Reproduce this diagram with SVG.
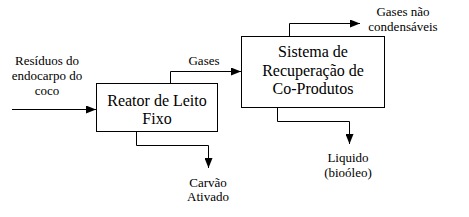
<svg xmlns="http://www.w3.org/2000/svg" width="469" height="217" viewBox="0 0 469 217">
<style>
.box{fill:#fff;stroke:#000;stroke-width:1}
.ln{fill:none;stroke:#000;stroke-width:1}
.t,.s{font-family:'Liberation Serif','Times New Roman',serif;fill:#000;text-anchor:middle}
.t{font-size:16px}
.s{font-size:13px}
</style>
<defs>
<marker id="ah" markerWidth="10" markerHeight="8" refX="10" refY="4" orient="auto" markerUnits="userSpaceOnUse">
<path d="M0,0 L10,4 L0,8 Z" fill="#000"/>
</marker>
</defs>
<rect width="469" height="217" fill="#fff"/>
<g id="connectors">
<path class="ln" d="M12,109.5 H96" marker-end="url(#ah)"/>
<path class="ln" d="M170.5,83 V71.5 H241" marker-end="url(#ah)"/>
<path class="ln" d="M136.5,131 V145.5 H208.5 V168" marker-end="url(#ah)"/>
<path class="ln" d="M289.5,36 V23.5 H360" marker-end="url(#ah)"/>
<path class="ln" d="M277.5,107 V121.5 H349.5 V144" marker-end="url(#ah)"/>
</g>
<g id="reator">
<rect class="box" x="96.5" y="83.5" width="121" height="48"/>
<text class="t" x="157" y="106">Reator de Leito</text>
<text class="t" x="157" y="124">Fixo</text>
</g>
<g id="sistema">
<rect class="box" x="241.5" y="36.5" width="143" height="71"/>
<text class="t" x="313" y="57">Sistema de</text>
<text class="t" x="313" y="75.5">Recuperação de</text>
<text class="t" x="313" y="94">Co-Produtos</text>
</g>
<g id="residuos">
<text class="s" x="47" y="65">Resíduos do</text>
<text class="s" x="47" y="80">endocarpo do</text>
<text class="s" x="47" y="95">coco</text>
</g>
<g id="gases">
<text class="s" x="204" y="65">Gases</text>
</g>
<g id="carvao">
<text class="s" x="208" y="187">Carvão</text>
<text class="s" x="208" y="201">Ativado</text>
</g>
<g id="gases-nao">
<text class="s" x="403" y="16">Gases não</text>
<text class="s" x="403" y="31">condensáveis</text>
</g>
<g id="liquido">
<text class="s" x="348" y="162">Liquido</text>
<text class="s" x="348" y="177">(bioóleo)</text>
</g>
</svg>
